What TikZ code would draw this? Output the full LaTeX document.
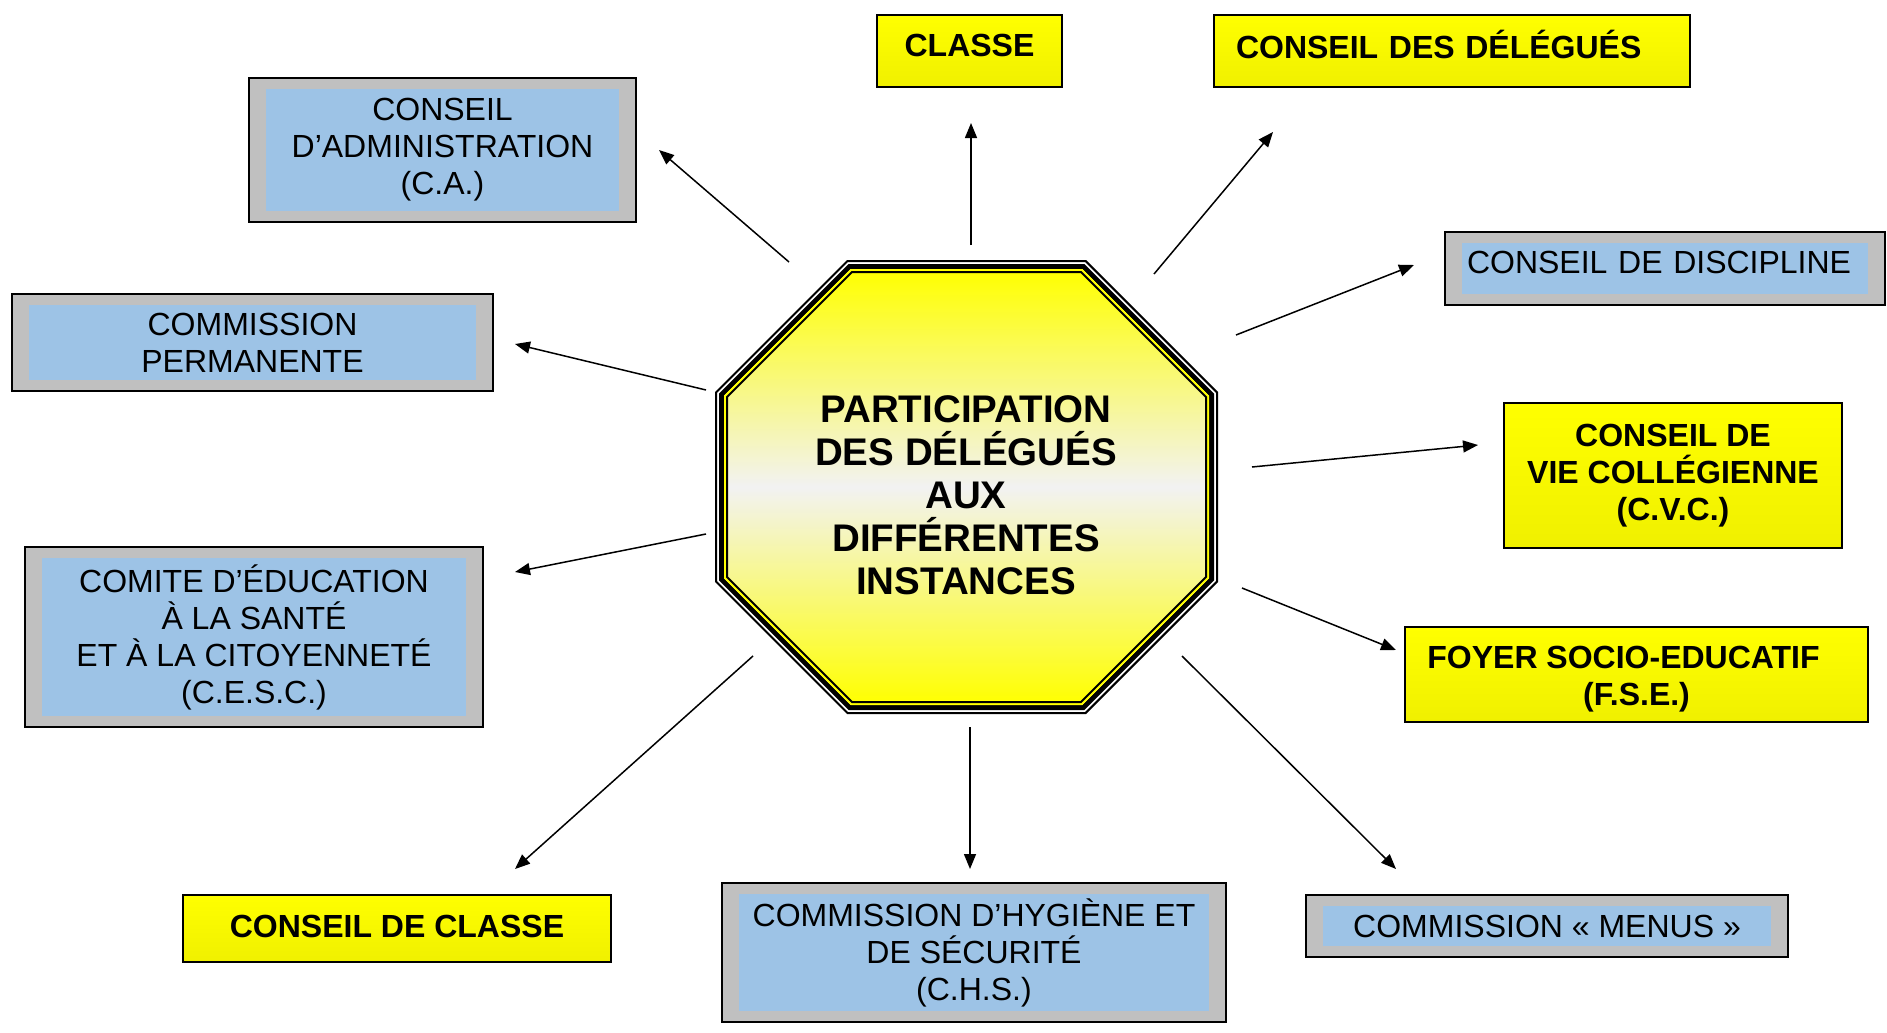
\documentclass[tikz,border=0pt]{standalone}
\usepackage{fontspec}
\setmainfont{Liberation Sans}
\usetikzlibrary{arrows.meta}

\definecolor{jaune}{HTML}{FFFF00}
\definecolor{jaunefonce}{HTML}{F0F000}
\definecolor{bleuclair}{HTML}{9DC3E6}
\definecolor{grisclair}{HTML}{C0C0C0}
\definecolor{blanccasse}{HTML}{F2F2F2}

% octogone central, retrait #1 vers l'interieur
\newcommand{\octo}[1]{(847+0.414*#1,260+#1) -- (1086-0.414*#1,260+#1) -- (1218-#1,392+0.414*#1) -- (1218-#1,582-0.414*#1) -- (1086-0.414*#1,714-#1) -- (847+0.414*#1,714-#1) -- (715+#1,582-0.414*#1) -- (715+#1,392+0.414*#1) -- cycle}
\newcommand{\texteboite}{\fontsize{32}{37}\selectfont}

\tikzset{
  boitebleue/.style 2 args={draw=black, line width=1.5pt, fill=grisclair,
    minimum width=#1, minimum height=#2, inner sep=0pt, align=center, font=\texteboite,
    path picture={\fill[bleuclair] ([xshift=17pt,yshift=11pt]path picture bounding box.south west)
      rectangle ([xshift=-17pt,yshift=-11pt]path picture bounding box.north east);}},
  boitejaune/.style 2 args={draw=black, line width=1.5pt, top color=jaune, bottom color=jaunefonce,
    minimum width=#1, minimum height=#2, inner sep=0pt, align=center, font=\texteboite\bfseries},
  fleche/.style={line width=1.5pt, -{Triangle[length=15pt,width=12pt]}}
}

\begin{document}
\begin{tikzpicture}[x=1pt, y=-1pt]
    \useasboundingbox (0,0) rectangle (1887,1033);

    % octogone
    \fill[white] \octo{0};
    \draw[line width=2pt] \octo{1};
    \draw[line width=5pt] \octo{6.5};
    \shade[top color=jaune, bottom color=jaune, middle color=blanccasse] \octo{10};
    \draw[jaune, line width=2pt] \octo{10};
    \draw[line width=2pt] \octo{12};
    \node[font=\fontsize{38.5}{43}\selectfont\bfseries, align=center] (centre) at (966,495)
        {PARTICIPATION\\DES DÉLÉGUÉS\\AUX\\DIFFÉRENTES\\INSTANCES};

    % instances
    \node[boitejaune={185pt}{72pt}, text depth=12pt] (classe) at (969.5,51) {CLASSE};
    \node[boitejaune={476pt}{72pt}, text width=432pt, align=left, text depth=14pt] (delegues) at (1452,51) {CONSEIL DES DÉLÉGUÉS};
    \node[boitebleue={387pt}{144pt}] (ca) at (442.5,150) {CONSEIL\\D’ADMINISTRATION\\(C.A.)};
    \node[boitebleue={481pt}{97pt}] (permanente) at (252.5,342.5) {COMMISSION\\PERMANENTE};
    \node[boitebleue={440pt}{73pt}, text width=396pt, align=left, text depth=12pt] (discipline) at (1665,268.5) {CONSEIL DE DISCIPLINE};
    \node[boitejaune={338pt}{145pt}] (cvc) at (1673,475.5) {CONSEIL DE\\VIE COLLÉGIENNE\\(C.V.C.)};
    \node[boitejaune={463pt}{95pt}] (fse) at (1636.5,674.5) {\rule{0pt}{31pt}FOYER SOCIO-EDUCATIF\hspace*{26pt}\\(F.S.E.)};
    \node[boitebleue={458pt}{180pt}] (cesc) at (254,637) {COMITE D’ÉDUCATION\\À LA SANTÉ\\ET À LA CITOYENNETÉ\\(C.E.S.C.)};
    \node[boitejaune={428pt}{67pt}, text depth=5pt] (cdc) at (397,928.5) {CONSEIL DE CLASSE};
    \node[boitebleue={504pt}{139pt}] (chs) at (974,952.5) {COMMISSION D’HYGIÈNE ET\\DE SÉCURITÉ\\(C.H.S.)};
    \node[boitebleue={482pt}{62pt}] (menus) at (1547,926) {COMMISSION « MENUS »};

    % depart et arrivee des fleches
    \coordinate (d-classe) at (971,245);      \coordinate (a-classe) at (971,123);
    \coordinate (d-delegues) at (1154,274);   \coordinate (a-delegues) at (1273,132);
    \coordinate (d-discipline) at (1236,335); \coordinate (a-discipline) at (1414,265);
    \coordinate (d-cvc) at (1252,467);        \coordinate (a-cvc) at (1478,445);
    \coordinate (d-fse) at (1242,588);        \coordinate (a-fse) at (1396,650);
    \coordinate (d-menus) at (1182,656);      \coordinate (a-menus) at (1396,869);
    \coordinate (d-chs) at (970,727);         \coordinate (a-chs) at (970,869);
    \coordinate (d-cdc) at (753,656);         \coordinate (a-cdc) at (515,869);
    \coordinate (d-cesc) at (706,534);        \coordinate (a-cesc) at (515,572);
    \coordinate (d-permanente) at (706,390);  \coordinate (a-permanente) at (515,344);
    \coordinate (d-ca) at (789,262);          \coordinate (a-ca) at (659,150);

    \draw[fleche] (d-classe) -- (a-classe);
    \draw[fleche] (d-delegues) -- (a-delegues);
    \draw[fleche] (d-discipline) -- (a-discipline);
    \draw[fleche] (d-cvc) -- (a-cvc);
    \draw[fleche] (d-fse) -- (a-fse);
    \draw[fleche] (d-menus) -- (a-menus);
    \draw[fleche] (d-chs) -- (a-chs);
    \draw[fleche] (d-cdc) -- (a-cdc);
    \draw[fleche] (d-cesc) -- (a-cesc);
    \draw[fleche] (d-permanente) -- (a-permanente);
    \draw[fleche] (d-ca) -- (a-ca);
\end{tikzpicture}
\end{document}
